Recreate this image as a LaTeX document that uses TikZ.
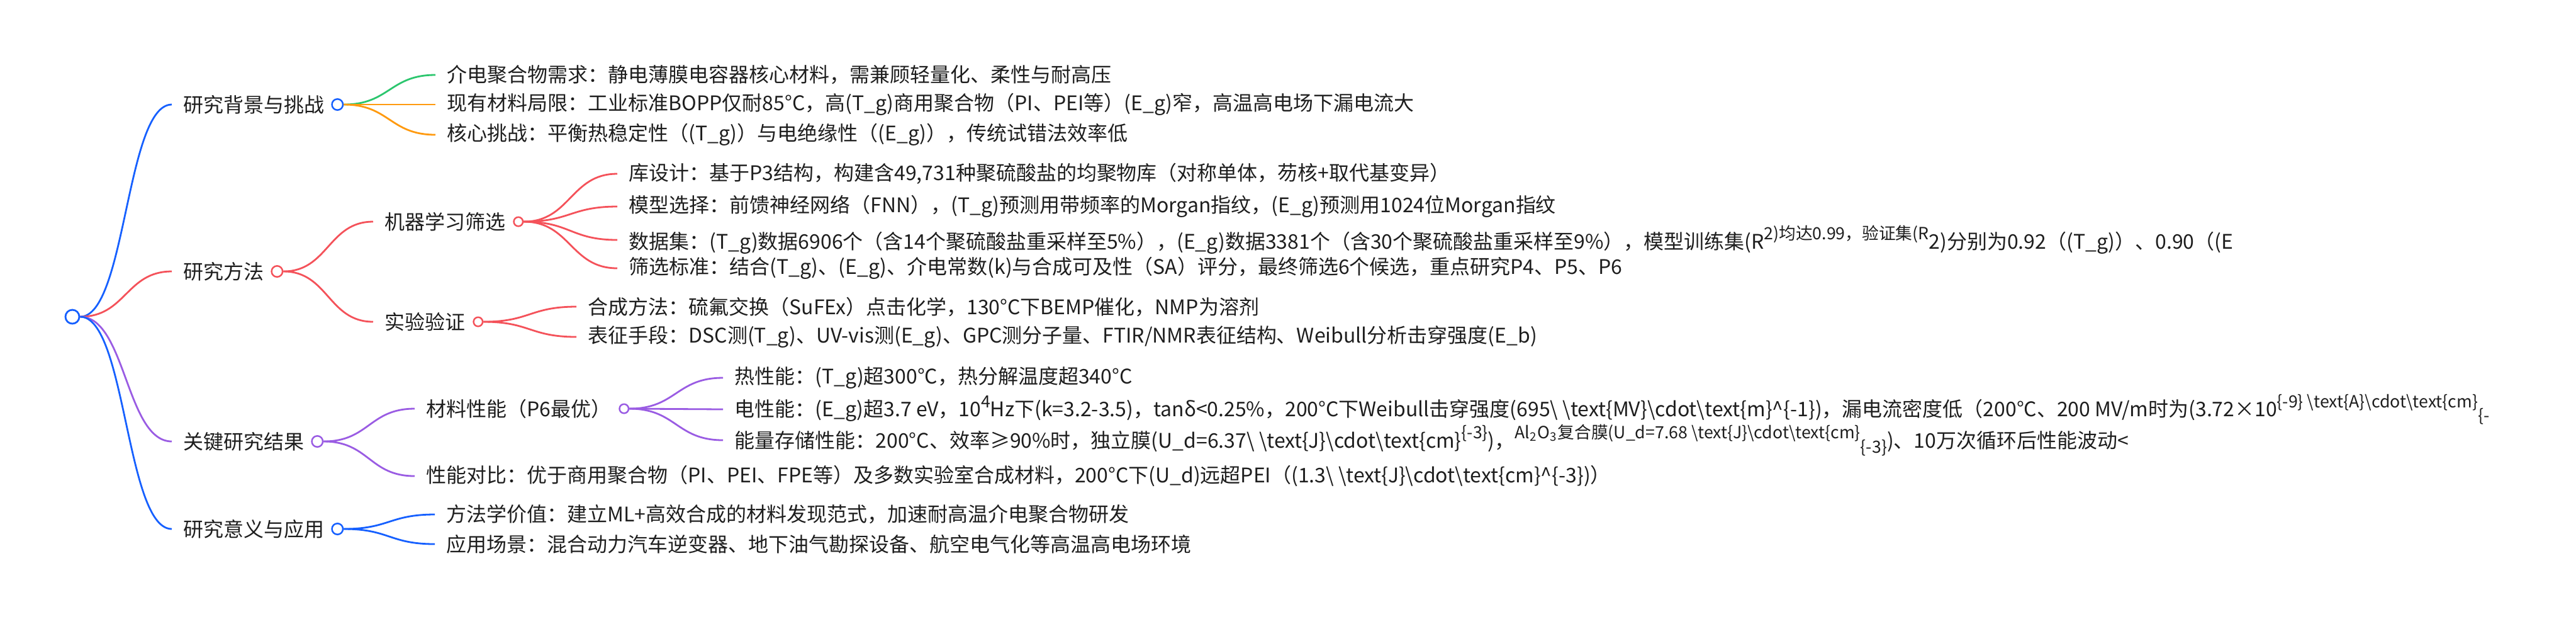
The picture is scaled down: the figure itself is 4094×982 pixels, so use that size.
\documentclass[tikz,border=0pt]{standalone}
\usepackage{fontspec}
\setmainfont{Noto Sans CJK SC}
\usepackage{tikz}
\usetikzlibrary{positioning,calc}
\definecolor{mmblue}  {HTML}{1660FF}
\definecolor{mmred}   {HTML}{F4525A}
\definecolor{mmpurple}{HTML}{9A5CE3}
\definecolor{mmgreen} {HTML}{2CC66E}
\definecolor{mmorange}{HTML}{FF9A0F}
\definecolor{mmink}   {HTML}{1E1E1E}
\newcommand{\mmsup}[1]{\raisebox{0.85ex}{\fontsize{7.6pt}{8pt}\selectfont #1}}
\newcommand{\mmsub}[1]{\raisebox{-0.45ex}{\fontsize{7.6pt}{8pt}\selectfont #1}}
\tikzset{
  mmtext/.style={anchor=west, inner xsep=1.8mm, inner ysep=0.5mm, text=mmink,
                 font=\fontsize{9.1pt}{11pt}\selectfont},
  mmdot/.style={circle, draw=#1, fill=white, line width=0.25mm,
                minimum size=1.75mm, inner sep=0pt},
  mmsubdot/.style={mmdot=#1, minimum size=1.45mm},
  mmroot/.style={mmdot=#1, minimum size=2.2mm, line width=0.28mm},
  mmlink/.style={draw=#1, line width=0.28mm,
                 to path={let \p1=(\tikztostart), \p2=(\tikztotarget) in
                          .. controls ({0.5*\x1+0.5*\x2},\y1) and ({0.5*\x1+0.5*\x2},\y2)
                          .. (\tikztotarget)}},
}

\begin{document}
\begin{tikzpicture}[x=0.1mm,y=-0.1mm]
  \useasboundingbox (0,0) rectangle (4094,982);
  % root
  \node[mmroot=mmblue] (root) at (115,503) {};
  % main branches
  \node[mmtext] (b1) at (273,166) {研究背景与挑战};
  \node[mmdot=mmblue, right=-0.8mm of b1] (c1) {};
  \node[mmtext] (b2) at (273,431) {研究方法};
  \node[mmdot=mmred, right=-0.8mm of b2] (c2) {};
  \node[mmtext] (b3) at (273,701) {关键研究结果};
  \node[mmdot=mmpurple, right=-0.8mm of b3] (c3) {};
  \node[mmtext] (b4) at (273,840) {研究意义与应用};
  \node[mmdot=mmblue, right=-0.8mm of b4] (c4) {};
  % background
  \node[mmtext] (b11) at (692,119) {介电聚合物需求：静电薄膜电容器核心材料，需兼顾轻量化、柔性与耐高压};
  \node[mmtext] (b12) at (692,166) {现有材料局限：工业标准BOPP仅耐85°C，高(T\_g)商用聚合物（PI、PEI等）(E\_g)窄，高温高电场下漏电流大};
  \node[mmtext] (b13) at (692,214) {核心挑战：平衡热稳定性（(T\_g)）与电绝缘性（(E\_g)），传统试错法效率低};
  % methods
  \node[mmtext] (b21) at (593,352) {机器学习筛选};
  \node[mmsubdot=mmred, right=-0.7mm of b21] (c21) {};
  \node[mmtext] (b22) at (593,511) {实验验证};
  \node[mmsubdot=mmred, right=-0.7mm of b22] (c22) {};
  \node[mmtext] (b211) at (981,276) {库设计：基于P3结构，构建含49,731种聚硫酸盐的均聚物库（对称单体，芴核+取代基变异）};
  \node[mmtext] (b212) at (981,328) {模型选择：前馈神经网络（FNN），(T\_g)预测用带频率的Morgan指纹，(E\_g)预测用1024位Morgan指纹};
  \node[mmtext] (b213) at (981,381) {数据集：(T\_g)数据6906个（含14个聚硫酸盐重采样至5\%），(E\_g)数据3381个（含30个聚硫酸盐重采样至9\%），模型训练集(R\mmsup{2)均达0.99，验证集(R}2)分别为0.92（(T\_g)）、0.90（(E};
  \node[mmtext] (b214) at (981,426) {筛选标准：结合(T\_g)、(E\_g)、介电常数(k)与合成可及性（SA）评分，最终筛选6个候选，重点研究P4、P5、P6};
  \node[mmtext] (b221) at (916,487) {合成方法：硫氟交换（SuFEx）点击化学，130°C下BEMP催化，NMP为溶剂};
  \node[mmtext] (b222) at (916,535) {表征手段：DSC测(T\_g)、UV-vis测(E\_g)、GPC测分子量、FTIR/NMR表征结构、Weibull分析击穿强度(E\_b)};
  % results
  \node[mmtext] (b31) at (659,649) {材料性能（P6最优）};
  \node[mmsubdot=mmpurple, right=-0.7mm of b31] (c31) {};
  \node[mmtext] (b32) at (659,756) {性能对比：优于商用聚合物（PI、PEI、FPE等）及多数实验室合成材料，200°C下(U\_d)远超PEI（(1.3\textbackslash{} \textbackslash{}text\{J\}\textbackslash{}cdot\textbackslash{}text\{cm\}\textasciicircum\{-3\})）};
  \node[mmtext] (b311) at (1149,600) {热性能：(T\_g)超300°C，热分解温度超340°C};
  \node[mmtext] (b312) at (1149,650) {电性能：(E\_g)超3.7 eV，10\mmsup{4}Hz下(k=3.2-3.5)，tanδ<0.25\%，200°C下Weibull击穿强度(695\textbackslash{} \textbackslash{}text\{MV\}\textbackslash{}cdot\textbackslash{}text\{m\}\textasciicircum\{-1\})，漏电流密度低（200°C、200 MV/m时为(3.72×10\mmsup{\{-9\} \textbackslash{}text\{A\}\textbackslash{}cdot\textbackslash{}text\{cm\}}\mmsub{\{-}};
  \node[mmtext] (b313) at (1149,699) {能量存储性能：200°C、效率≥90\%时，独立膜(U\_d=6.37\textbackslash{} \textbackslash{}text\{J\}\textbackslash{}cdot\textbackslash{}text\{cm\}\mmsup{\{-3\}})，\mmsup{Al\textsubscript{2}O\textsubscript{3}复合膜(U\_d=7.68 \textbackslash{}text\{J\}\textbackslash{}cdot\textbackslash{}text\{cm\}}\mmsub{\{-3\}})、10万次循环后性能波动<};
  % significance
  \node[mmtext] (b41) at (691,817) {方法学价值：建立ML+高效合成的材料发现范式，加速耐高温介电聚合物研发};
  \node[mmtext] (b42) at (691,864) {应用场景：混合动力汽车逆变器、地下油气勘探设备、航空电气化等高温高电场环境};

  % links
  \draw[mmlink=mmblue] (root.east) to (b1.west);
  \draw[mmlink=mmred] (root.east) to (b2.west);
  \draw[mmlink=mmpurple] (root.east) to (b3.west);
  \draw[mmlink=mmblue] (root.east) to (b4.west);
  \draw[mmlink=mmgreen] (c1.east) to (b11.west);
  \draw[mmlink=mmorange] (c1.east) to (b12.west);
  \draw[mmlink=mmorange] (c1.east) to (b13.west);
  \foreach \kid in {b21,b22} \draw[mmlink=mmred] (c2.east) to (\kid.west);
  \foreach \kid in {b211,b212,b213,b214} \draw[mmlink=mmred] (c21.east) to (\kid.west);
  \foreach \kid in {b221,b222} \draw[mmlink=mmred] (c22.east) to (\kid.west);
  \foreach \kid in {b31,b32} \draw[mmlink=mmpurple] (c3.east) to (\kid.west);
  \foreach \kid in {b311,b312,b313} \draw[mmlink=mmpurple] (c31.east) to (\kid.west);
  \foreach \kid in {b41,b42} \draw[mmlink=mmblue] (c4.east) to (\kid.west);
\end{tikzpicture}
\end{document}
